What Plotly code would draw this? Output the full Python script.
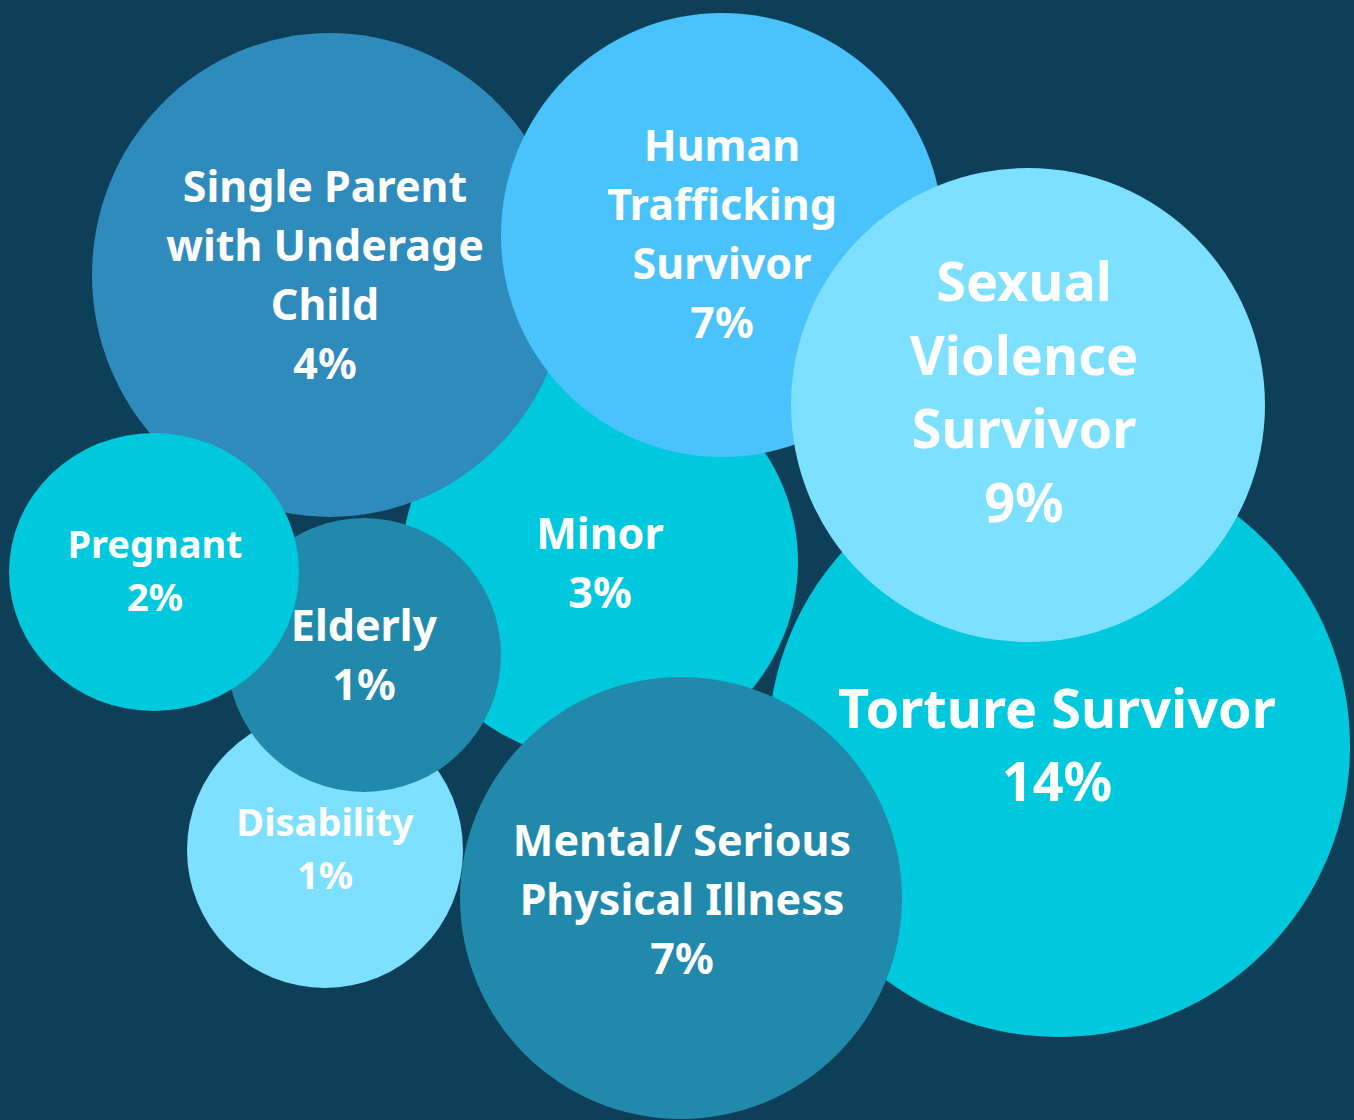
import plotly.graph_objects as go

# ---- data ----
categories = [
    "Torture Survivor",
    "Minor",
    "Disability",
    "Elderly",
    "Single Parent with Underage Child",
    "Pregnant",
    "Human Trafficking Survivor",
    "Sexual Violence Survivor",
    "Mental/ Serious Physical Illness",
]
values = [14, 3, 1, 1, 4, 2, 7, 9, 7]  # percent
label_lines = [
    ["Torture Survivor"],
    ["Minor"],
    ["Disability"],
    ["Elderly"],
    ["Single Parent", "with Underage", "Child"],
    ["Pregnant"],
    ["Human", "Trafficking", "Survivor"],
    ["Sexual", "Violence", "Survivor"],
    ["Mental/ Serious", "Physical Illness"],
]

# ---- layout (bubble placement, pixel space), drawn in this order ----
cx = [1059, 600, 325, 364, 330, 154, 722, 1028, 681]
cy = [746, 562, 850, 655, 275, 572, 235, 405, 898]
rx = [291, 198, 138, 137, 238, 145, 221, 237, 221]
ry = [291, 198, 138, 137, 242, 139, 222, 237, 221]
# label block centres
tx = [1057, 600, 325, 364, 325, 155, 722, 1024, 682]
ty = [751, 568, 853, 660, 280, 575, 239, 398, 904]

# ---- styles ----
BG = "#0d3f58"
colors = ["#00c9dd", "#00c9dd", "#7ee0ff", "#2189ab", "#2e8bbb",
          "#00c9dd", "#4ac3fd", "#7ee0ff", "#2189ab"]
font_sizes = [54, 43, 38, 43, 43, 38, 43, 54, 43]
LINE_GAP = 1.37

fig = go.Figure()

shapes = []
for i in range(len(categories)):
    shapes.append(dict(
        type="circle", xref="x", yref="y",
        x0=cx[i] - rx[i], x1=cx[i] + rx[i],
        y0=cy[i] - ry[i], y1=cy[i] + ry[i],
        fillcolor=colors[i], line=dict(width=0), layer="below",
    ))

for i in range(len(categories)):
    lines = label_lines[i] + [f"{values[i]}%"]
    n = len(lines)
    step = font_sizes[i] * LINE_GAP
    ys = [ty[i] + (j - (n - 1) / 2) * step for j in range(n)]
    fig.add_trace(go.Scatter(
        x=[tx[i]] * n, y=ys, mode="text",
        text=[f"<b>{t}</b>" for t in lines],
        textposition="middle center",
        textfont=dict(family="Noto Sans", size=font_sizes[i], color="white"),
        hoverinfo="skip", showlegend=False,
    ))

fig.update_layout(
    width=1354, height=1120,
    margin=dict(l=0, r=0, t=0, b=0),
    paper_bgcolor=BG, plot_bgcolor=BG,
    shapes=shapes,
    xaxis=dict(range=[0, 1354], visible=False, fixedrange=True),
    yaxis=dict(range=[1120, 0], visible=False, fixedrange=True),
    showlegend=False,
)

fig.write_html(
    "out.html",
    config={"displayModeBar": False},
    post_script=f"document.body.style.margin='0';document.body.style.background='{BG}';document.body.style.overflow='hidden';",
)
